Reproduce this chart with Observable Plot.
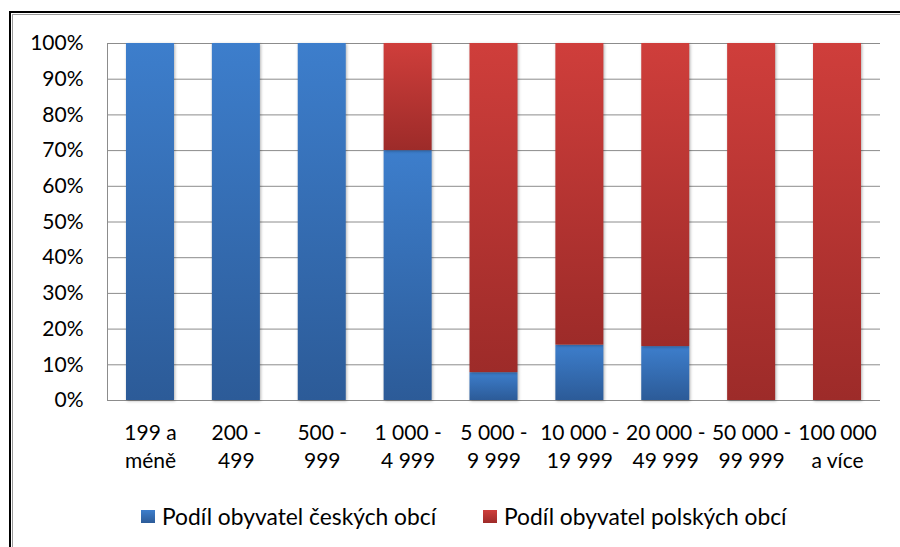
<!DOCTYPE html>
<html>
<head>
<meta charset="utf-8">
<script src="https://cdn.jsdelivr.net/npm/d3@7"></script>
<script src="https://cdn.jsdelivr.net/npm/@observablehq/plot@0.6"></script>
<style>
  html, body { margin: 0; padding: 0; background: #fff; }
  body { width: 900px; height: 547px; overflow: hidden; position: relative; font-family: Lato, sans-serif; }
  #frame1 { position: absolute; left: 9px; top: 11px; width: 1000px; height: 1000px; border-left: 2px solid #000; border-top: 2px solid #000; }
  #frame2 { position: absolute; left: 12px; top: 14px; width: 1000px; height: 1000px; border-left: 1px solid #9a9a9a; border-top: 1px solid #9a9a9a; }
  #chart { position: absolute; left: 0; top: 0; }
  #legend { position: absolute; top: 502px; left: 0; width: 900px; height: 28px; font-size: 22.8px; color: #000; }
  .item { position: absolute; display: flex; align-items: center; white-space: nowrap; }
  .sw { width: 14px; height: 13px; margin-right: 7px; }
</style>
</head>
<body>
<svg width="0" height="0" style="position:absolute">
  <defs>
    <linearGradient id="gBlue" x1="0" y1="0" x2="0" y2="1">
      <stop offset="0" stop-color="#3d7ecc"/>
      <stop offset="1" stop-color="#2c5b98"/>
    </linearGradient>
    <linearGradient id="gRed" x1="0" y1="0" x2="0" y2="1">
      <stop offset="0" stop-color="#cf3e3b"/>
      <stop offset="1" stop-color="#9d2b29"/>
    </linearGradient>
  </defs>
</svg>
<div id="frame1"></div>
<div id="frame2"></div>
<div id="chart"></div>
<div id="legend">
  <div class="item" style="left:141px"><div class="sw" style="background:linear-gradient(#3d7ecc,#2c5b98)"></div><span id="l1"></span></div>
  <div class="item" style="left:483px"><div class="sw" style="background:linear-gradient(#cf3e3b,#9d2b29)"></div><span id="l2"></span></div>
</div>
<script>
const categories = ["199 a\nméně", "200 -\n499", "500 -\n999", "1 000 -\n4 999", "5 000 -\n9 999", "10 000 -\n19 999", "20 000 -\n49 999", "50 000 -\n99 999", "100 000\na více"];
const seriesNames = ["Podíl obyvatel českých obcí", "Podíl obyvatel polských obcí"];
const czech = [1.00, 1.00, 1.00, 0.70, 0.078, 0.155, 0.151, 0.00, 0.00];
const polish = [0.00, 0.00, 0.00, 0.30, 0.922, 0.845, 0.849, 1.00, 1.00];
const yTicks = [0, 0.1, 0.2, 0.3, 0.4, 0.5, 0.6, 0.7, 0.8, 0.9, 1.0];

const rows = [];
categories.forEach((c, i) => {
  rows.push({cat: c, series: seriesNames[0], value: czech[i]});
  rows.push({cat: c, series: seriesNames[1], value: polish[i]});
});

document.getElementById("l1").textContent = seriesNames[0];
document.getElementById("l2").textContent = seriesNames[1];

const chart = Plot.plot({
  width: 900,
  height: 480,
  marginLeft: 107,
  marginRight: 20,
  marginTop: 43,
  marginBottom: 80,
  style: {fontFamily: "Lato, sans-serif", fontSize: "21px", color: "#000", background: "transparent", overflow: "visible"},
  x: {domain: categories, paddingInner: 0.441, paddingOuter: 0.221, round: false, label: null},
  y: {domain: [0, 1], label: null},
  color: {domain: seriesNames, range: ["url(#gBlue)", "url(#gRed)"]},
  marks: [
    Plot.gridY(yTicks, {stroke: "#8c8c8c", strokeOpacity: 1, strokeWidth: 1}),
    Plot.barY(rows, {x: "cat", y: "value", fill: "series", order: seriesNames}),
    Plot.axisY(yTicks, {tickSize: 0, tickPadding: 24, tickFormat: d3.format(".0%"), fontSize: 21, label: null}),
    Plot.axisX({tickSize: 0, tickPadding: 20, lineHeight: 1.33, fontSize: 21, label: null})
  ]
});
document.getElementById("chart").appendChild(chart);

const svg = d3.select(chart);
const xr = chart.scale("x").range;
const yr = chart.scale("y").range;
svg.append("line")
  .attr("x1", xr[0]).attr("x2", xr[0])
  .attr("y1", yr[0]).attr("y2", yr[1])
  .attr("stroke", "#8c8c8c").attr("stroke-width", 1).attr("shape-rendering", "crispEdges");
svg.selectAll("g[aria-label='bar'] rect")
  .style("filter", "drop-shadow(1.5px 1.5px 1.5px rgba(0,0,0,0.3))");
</script>
</body>
</html>
